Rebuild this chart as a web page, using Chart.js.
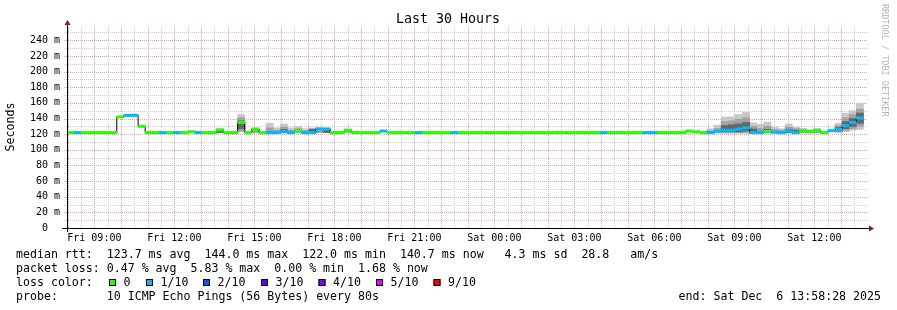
<!DOCTYPE html>
<html>
<head>
<meta charset="utf-8">
<script src="https://cdn.jsdelivr.net/npm/chart.js@4.4.1/dist/chart.umd.min.js"></script>
<style>
  html, body { margin: 0; padding: 0; background: #fff; }
</style>
</head>
<body>
<canvas id="chart" width="897" height="310"></canvas>
<script>
// graph window: Fri 07:58:28 .. Sat 13:58:28, x in minutes since Fri 00:00
const startMin = 478.47;
const spanMin = 1800;
const stepMin = 16;

// median rtt per 16 minute step (ms)
const median = [
  122, 122, 122, 122, 122, 122, 122, 142, 144, 144,
  130, 122, 122, 122, 122, 122, 122, 123, 122, 122,
  122, 125.5, 122, 122, 135, 122, 126.5, 122, 122, 122,
  123.5, 122, 124, 122, 122, 126.5, 126.5, 122, 122, 124.5,
  122, 122, 122, 122, 124, 122, 122, 122, 122, 122,
  122, 122, 122, 122, 122, 122, 122, 122, 122, 122,
  122, 122, 122, 122, 122, 122, 122, 122, 122, 122,
  122, 122, 122, 122, 122, 122, 122, 122, 122, 122,
  122, 122, 122, 122, 122, 122, 122, 124, 123, 122,
  122, 124, 125, 125, 126.5, 128, 122, 122, 123.5, 122.5,
  122, 124, 122, 124, 123, 124.5, 122, 124.5, 126, 131,
  135, 140.7
];

// loss colour bucket per step (0 = no loss, 1 = 1/10)
const loss = [
  0, 1, 0, 0, 0, 0, 0, 0, 1, 1,
  0, 0, 0, 1, 0, 1, 0, 0, 1, 0,
  0, 0, 0, 0, 0, 0, 0, 0, 1, 1,
  1, 1, 0, 1, 1, 1, 1, 0, 0, 0,
  0, 0, 0, 0, 1, 0, 0, 0, 0, 1,
  0, 0, 0, 0, 1, 0, 0, 0, 0, 0,
  0, 0, 0, 0, 0, 0, 0, 0, 0, 0,
  0, 0, 0, 0, 0, 1, 0, 0, 0, 0,
  0, 1, 1, 0, 0, 0, 0, 0, 0, 0,
  1, 1, 1, 1, 1, 1, 1, 1, 0, 1,
  1, 1, 1, 0, 0, 0, 0, 1, 1, 1,
  1, 1
];

// smoke (ping spread) for the steps that have visible jitter
const smokeSteps   = [21, 24, 26, 28, 29, 30, 31, 32, 33, 34, 35, 36, 39, 90, 91, 92, 93, 94, 95, 96, 97, 98, 99, 100, 101, 102, 103, 104, 105, 108, 109, 110, 111];
const smokeOuterLo = [121.5, 123, 122, 121.5, 121.5, 121.5, 121.5, 121.5, 121.5, 121.5, 122, 122, 122, 121.5, 121.5, 121, 121, 121, 121, 121, 121, 121, 121, 121, 121, 121, 121, 121.5, 121.5, 122, 123, 125, 126];
const smokeOuterHi = [126.5, 145, 127.5, 134, 128, 133, 128, 130, 127, 128, 129, 128, 127, 127, 131.5, 142, 142, 145, 148, 134.5, 132.5, 135.5, 129, 127, 133, 129, 127.5, 126, 127.5, 134, 147, 150, 159.5];
const smokeMidLo   = [122, 124, 122, 122, 122, 122, 122, 122, 122, 122, 122, 122, 122, 122, 122, 122, 122, 122, 122, 122, 122, 122, 122, 122, 122, 122, 122, 122, 122, 123, 125, 127, 130];
const smokeMidHi   = [125, 141, 126, 128, 125, 129, 125, 127, 124.5, 127, 127.5, 127, 125.5, 124.5, 127.5, 136, 137, 139, 141, 130, 127.5, 130, 126, 125, 129, 127, 125.5, 124.5, 126, 131, 141, 145, 152];
const smokeInnerLo = [122, 127, null, null, null, 122, null, null, null, 122, null, 122, null, null, null, 123, 123, 123, 124, 122, null, 122, null, null, 122, 122, null, null, null, 124, 127, 130, 134];
const smokeInnerHi = [124, 137, null, null, null, 126, null, null, null, 126, null, 125, null, null, null, 131, 132, 133, 135, 126.5, null, 126, null, null, 126, 125, null, null, null, 128.5, 136, 140, 147];

const LOSS_COLORS = ['#22ff00', '#00b8ff', '#0059ff', '#5e00ff', '#7e00ff', '#dd00ff', '#ff0000'];
const lossLabels = ['0', '1/10', '2/10', '3/10', '4/10', '5/10', '9/10'];

// tick positions: half-hour grid on x, 10 ms grid on y
const xTickVals = [];
for (let v = 480; v <= 2250; v += 30) xTickVals.push(v);
const yTickVals = [];
for (let v = 0; v <= 250; v += 10) yTickVals.push(v);

const MONO = '"DejaVu Sans Mono", monospace';
const MGRID = 'rgb(242, 158, 158)';
const GRID = 'rgb(205, 205, 205)';

const stepStart = i => startMin + i * stepMin;
const stepCenter = i => startMin + (i + 0.5) * stepMin;

function smokeBand(lo, hi) {
  const pts = [];
  smokeSteps.forEach((s, j) => {
    if (lo[j] != null) pts.push({ x: stepCenter(s), y: [lo[j], hi[j]] });
  });
  return pts;
}

const medianBars = median.map((v, i) => ({ x: stepCenter(i), y: [v - 1.5, v + 1.5] }));
const medianLine = median.map((v, i) => ({ x: stepStart(i), y: v }));
medianLine.push({ x: stepStart(median.length), y: median[median.length - 1] });

const barOpts = { type: 'bar', grouped: false, barPercentage: 1, categoryPercentage: 1, borderWidth: 0 };

function timeLabel(v) {
  const day = v < 1440 ? 'Fri' : 'Sat';
  const h = Math.floor((v % 1440) / 60);
  return day + ' ' + String(h).padStart(2, '0') + ':00';
}

// dotted rrdtool style grid, drawn under the data
const dottedGrid = {
  id: 'dottedGrid',
  beforeDatasetsDraw(chart) {
    const { ctx, chartArea: a, scales } = chart;
    ctx.save();
    ctx.lineWidth = 1;
    ctx.setLineDash([1, 1]);
    xTickVals.forEach(v => {
      const px = Math.round(scales.x.getPixelForValue(v)) + 0.5;
      ctx.strokeStyle = v % 60 === 0 ? MGRID : GRID;
      ctx.beginPath();
      ctx.moveTo(px, a.bottom);
      ctx.lineTo(px, a.top);
      ctx.stroke();
    });
    yTickVals.forEach(v => {
      if (v === 0) return;
      const py = Math.round(scales.y.getPixelForValue(v)) + 0.5;
      ctx.strokeStyle = v % 20 === 0 ? MGRID : GRID;
      ctx.beginPath();
      ctx.moveTo(a.left - 3, py);
      ctx.lineTo(a.right, py);
      ctx.stroke();
    });
    ctx.restore();
  }
};

// axes, arrows and all the rrdtool text
const decor = {
  id: 'decor',
  afterDatasetsDraw(chart) {
    const { ctx, chartArea: a } = chart;
    ctx.save();
    ctx.strokeStyle = '#000';
    ctx.lineWidth = 1;
    ctx.beginPath();
    ctx.moveTo(62, a.bottom + 0.5);
    ctx.lineTo(a.right + 3, a.bottom + 0.5);
    ctx.moveTo(a.left + 0.5, a.bottom + 4);
    ctx.lineTo(a.left + 0.5, a.top - 3);
    ctx.stroke();
    ctx.fillStyle = '#7f1f1f';
    ctx.beginPath();
    ctx.moveTo(a.right + 7, a.bottom + 0.5);
    ctx.lineTo(a.right + 2, a.bottom - 2.5);
    ctx.lineTo(a.right + 2, a.bottom + 3.5);
    ctx.closePath();
    ctx.fill();
    ctx.beginPath();
    ctx.moveTo(a.left + 0.5, a.top - 7);
    ctx.lineTo(a.left - 2.5, a.top - 2);
    ctx.lineTo(a.left + 3.5, a.top - 2);
    ctx.closePath();
    ctx.fill();
    ctx.restore();
  },
  afterDraw(chart) {
    const ctx = chart.ctx;
    ctx.save();
    ctx.fillStyle = '#000';
    ctx.textBaseline = 'middle';

    ctx.font = '13.3px ' + MONO;
    ctx.textAlign = 'center';
    ctx.fillText('Last 30 Hours', 448, 20);

    ctx.font = '11.6px ' + MONO;
    ctx.save();
    ctx.translate(11, 127);
    ctx.rotate(-Math.PI / 2);
    ctx.fillText('Seconds', 0, 0);
    ctx.restore();

    ctx.save();
    ctx.font = '8.5px ' + MONO;
    ctx.fillStyle = '#b4b4b4';
    ctx.textAlign = 'left';
    ctx.translate(884, 4);
    ctx.rotate(Math.PI / 2);
    ctx.fillText('RRDTOOL / TOBI OETIKER', 0, 0);
    ctx.restore();

    ctx.font = '11.6px ' + MONO;
    ctx.textAlign = 'left';
    ctx.fillText('median rtt:  123.7 ms avg  144.0 ms max  122.0 ms min  140.7 ms now   4.3 ms sd  28.8   am/s', 16, 254.5);
    ctx.fillText('packet loss: 0.47 % avg  5.83 % max  0.00 % min  1.68 % now', 16, 268.5);
    ctx.fillText('loss color:', 16, 282.5);
    const boxX = [109, 146, 203, 261, 318.5, 376, 433.5];
    lossLabels.forEach((lab, i) => {
      ctx.fillStyle = LOSS_COLORS[i];
      ctx.fillRect(boxX[i], 279, 7, 7);
      ctx.strokeStyle = '#000';
      ctx.lineWidth = 1;
      ctx.strokeRect(boxX[i] + 0.5, 279.5, 6, 6);
      ctx.fillStyle = '#000';
      ctx.fillText(lab, boxX[i] + 14.5, 282.5);
    });
    ctx.fillText('probe:       10 ICMP Echo Pings (56 Bytes) every 80s', 16, 296.5);
    ctx.textAlign = 'right';
    ctx.fillText('end: Sat Dec  6 13:58:28 2025', 881, 296.5);
    ctx.restore();
  }
};

new Chart(document.getElementById('chart'), {
  type: 'bar',
  data: {
    datasets: [
      Object.assign({}, barOpts, { label: 'median', data: medianBars, order: 0,
        backgroundColor: medianBars.map((p, i) => LOSS_COLORS[loss[i]]) }),
      { type: 'line', label: 'median line', data: medianLine, order: 1, stepped: true,
        borderColor: '#000', borderWidth: 1, pointRadius: 0, fill: false },
      Object.assign({}, barOpts, { label: 'smoke inner', data: smokeBand(smokeInnerLo, smokeInnerHi), order: 2, backgroundColor: '#666666' }),
      Object.assign({}, barOpts, { label: 'smoke mid', data: smokeBand(smokeMidLo, smokeMidHi), order: 3, backgroundColor: '#a2a2a2' }),
      Object.assign({}, barOpts, { label: 'smoke outer', data: smokeBand(smokeOuterLo, smokeOuterHi), order: 4, backgroundColor: '#c8c8c8' })
    ]
  },
  options: {
    responsive: false,
    animation: false,
    layout: { padding: { top: 27, right: 30, left: 0, bottom: 0 } },
    plugins: { legend: { display: false }, tooltip: { enabled: false } },
    scales: {
      x: {
        type: 'linear',
        min: startMin,
        max: startMin + spanMin,
        offset: false,
        afterFit: s => { s.height = 82; },
        afterBuildTicks: s => { s.ticks = xTickVals.map(v => ({ value: v })); },
        grid: { display: false, drawTicks: false },
        border: { display: false },
        ticks: {
          autoSkip: false, maxRotation: 0, minRotation: 0, padding: 4, color: '#000',
          font: { family: MONO, size: 10 },
          callback: v => v % 180 === 0 ? timeLabel(v) : ''
        }
      },
      y: {
        type: 'linear',
        min: 0,
        max: 257,
        afterFit: s => { s.width = 67; },
        afterBuildTicks: s => { s.ticks = yTickVals.map(v => ({ value: v })); },
        grid: { display: false, drawTicks: false },
        border: { display: false },
        ticks: {
          padding: 7, color: '#000',
          font: { family: MONO, size: 10 },
          callback: v => v % 20 === 0 ? (v === 0 ? '0  ' : v + ' m') : ''
        }
      }
    }
  },
  plugins: [dottedGrid, decor]
});
</script>
</body>
</html>
